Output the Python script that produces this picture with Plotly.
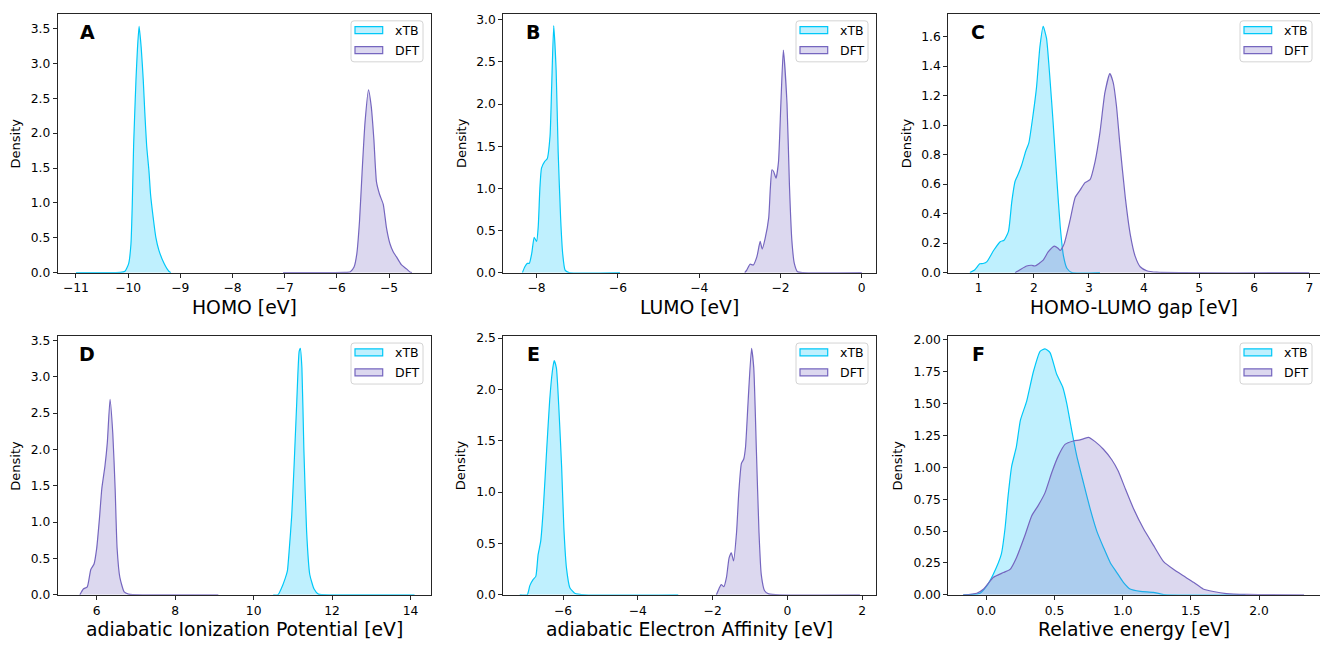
import plotly.graph_objects as go

# ---------------- density curves (x in eV, kernel density) ----------------
# A: HOMO
homo_xtb_x = [-11.0, -10.5, -10.15, -10.06, -9.99, -9.946, -9.92, -9.895, -9.85, -9.82, -9.79,
              -9.75, -9.71, -9.68, -9.645, -9.60, -9.57, -9.52, -9.47, -9.41, -9.31, -9.22, -9.18]
homo_xtb_d = [0, 0, 0.003, 0.02, 0.13, 0.41, 1.0, 1.82, 2.76, 3.23, 3.53,
              3.23, 2.76, 2.29, 1.82, 1.45, 1.12, 0.79, 0.51, 0.32, 0.13, 0.02, 0]
homo_dft_x = [-7.03, -6.2, -5.85, -5.74, -5.67, -5.617, -5.565, -5.515, -5.46, -5.393, -5.34,
              -5.29, -5.24, -5.18, -5.11, -5.05, -4.98, -4.92, -4.86, -4.76, -4.66, -4.60, -4.56]
homo_dft_d = [0, 0, 0.003, 0.014, 0.08, 0.27, 0.74, 1.45, 2.15, 2.62, 2.38,
              1.91, 1.30, 1.12, 0.98, 0.65, 0.41, 0.30, 0.23, 0.11, 0.05, 0.01, 0]

# B: LUMO
lumo_xtb_x = [-8.35, -8.29, -8.23, -8.18, -8.12, -8.06, -8.0, -7.96, -7.92, -7.88, -7.80, -7.74,
              -7.67, -7.63, -7.58, -7.52, -7.47, -7.41, -7.36, -7.30, -7.2, -5.95]
lumo_xtb_d = [0, 0.07, 0.11, 0.11, 0.23, 0.42, 0.37, 0.55, 1.0, 1.24, 1.32, 1.35,
              1.62, 2.21, 2.93, 2.4, 1.43, 0.65, 0.23, 0.03, 0.0, 0]
lumo_dft_x = [-2.88, -2.83, -2.75, -2.67, -2.58, -2.50, -2.45, -2.38, -2.29, -2.25, -2.21, -2.17,
              -2.11, -2.05, -1.99, -1.93, -1.84, -1.78, -1.72, -1.66, -1.58, -1.45, 0.0]
lumo_dft_d = [0, 0.03, 0.10, 0.09, 0.19, 0.37, 0.28, 0.40, 0.65, 1.0, 1.22, 1.2,
              1.12, 1.31, 2.01, 2.64, 2.01, 1.04, 0.38, 0.11, 0.01, 0.0, 0]

# C: HOMO-LUMO gap
gap_xtb_x = [0.84, 0.93, 1.02, 1.08, 1.15, 1.27, 1.39, 1.46, 1.54, 1.60, 1.66, 1.72, 1.78, 1.85,
             1.91, 1.99, 2.05, 2.11, 2.17, 2.23, 2.29, 2.35, 2.42, 2.48, 2.54, 2.60, 2.69, 3.2]
gap_xtb_d = [0, 0.02, 0.06, 0.062, 0.075, 0.15, 0.21, 0.22, 0.28, 0.48, 0.62, 0.67, 0.73, 0.82,
             0.88, 1.08, 1.26, 1.53, 1.67, 1.59, 1.33, 1.02, 0.62, 0.31, 0.11, 0.03, 0.0, 0]
gap_dft_x = [1.66, 1.75, 1.87, 1.96, 2.02, 2.17, 2.26, 2.37, 2.44, 2.48, 2.55, 2.66, 2.75, 2.84,
             2.93, 3.02, 3.11, 3.20, 3.29, 3.38, 3.44, 3.50, 3.56, 3.66, 3.75, 3.84, 3.93, 4.05,
             4.23, 7.0]
gap_dft_d = [0, 0.02, 0.045, 0.05, 0.045, 0.085, 0.14, 0.18, 0.165, 0.15, 0.195, 0.36, 0.51, 0.56,
             0.61, 0.63, 0.75, 0.95, 1.22, 1.35, 1.29, 1.13, 0.88, 0.51, 0.26, 0.11, 0.04, 0.013,
             0.003, 0]

# D: adiabatic ionization potential
ip_xtb_x = [10.5, 10.62, 10.70, 10.80, 10.86, 10.91, 10.97, 11.03, 11.10, 11.16, 11.19, 11.23,
            11.28, 11.35, 11.43, 11.54, 11.65, 12.0, 14.1]
ip_xtb_d = [0, 0, 0.08, 0.22, 0.33, 0.64, 1.09, 1.77, 2.67, 3.35, 3.39, 3.12,
            2.0, 0.87, 0.28, 0.08, 0.01, 0, 0]
ip_dft_x = [5.57, 5.66, 5.76, 5.85, 5.93, 6.0, 6.07, 6.13, 6.21, 6.27, 6.34, 6.41, 6.47, 6.52,
            6.59, 6.70, 6.81, 7.2, 9.1]
ip_dft_d = [0, 0.08, 0.11, 0.35, 0.42, 0.64, 1.05, 1.46, 1.77, 2.09, 2.69, 2.22, 1.46, 0.64,
            0.24, 0.04, 0.01, 0.0, 0]

# E: adiabatic electron affinity
ea_xtb_x = [-7.16, -6.96, -6.89, -6.80, -6.73, -6.67, -6.60, -6.53, -6.44, -6.36, -6.29, -6.24,
            -6.18, -6.11, -6.04, -5.98, -5.91, -5.82, -5.69, -5.4, -2.92]
ea_xtb_d = [0, 0, 0.09, 0.15, 0.18, 0.39, 0.52, 0.84, 1.41, 1.89, 2.17, 2.28,
            2.21, 1.79, 1.25, 0.65, 0.26, 0.07, 0.016, 0.0, 0]
ea_dft_x = [-1.90, -1.83, -1.77, -1.70, -1.63, -1.56, -1.50, -1.44, -1.36, -1.30, -1.23, -1.17,
            -1.12, -1.05, -0.96, -0.90, -0.83, -0.76, -0.70, -0.61, -0.50, -0.2, 1.94]
ea_dft_d = [0, 0.06, 0.10, 0.08, 0.17, 0.36, 0.41, 0.33, 0.61, 1.0, 1.28, 1.32,
            1.44, 1.89, 2.40, 2.21, 1.41, 0.61, 0.20, 0.04, 0.01, 0, 0]

# F: relative energy
rel_xtb_x = [-0.17, -0.046, 0.003, 0.05, 0.11, 0.137, 0.16, 0.186, 0.22, 0.25, 0.296, 0.345,
             0.394, 0.43, 0.467, 0.516, 0.56, 0.59, 0.626, 0.663, 0.712, 0.76, 0.81, 0.86, 0.91,
             0.957, 1.005, 1.054, 1.13, 1.225, 1.30, 1.9]
rel_xtb_d = [0, 0.013, 0.07, 0.16, 0.32, 0.52, 0.78, 1.01, 1.16, 1.37, 1.52, 1.75,
             1.91, 1.93, 1.90, 1.73, 1.63, 1.50, 1.29, 1.09, 0.88, 0.68, 0.50, 0.37, 0.25,
             0.175, 0.098, 0.046, 0.028, 0.02, 0.002, 0]
rel_dft_x = [-0.17, -0.07, -0.02, 0.05, 0.125, 0.174, 0.22, 0.284, 0.333, 0.38, 0.43, 0.48,
             0.528, 0.577, 0.638, 0.687, 0.748, 0.80, 0.86, 0.92, 0.968, 1.02, 1.078, 1.152,
             1.225, 1.30, 1.372, 1.445, 1.52, 1.59, 1.665, 1.76, 1.91, 2.33]
rel_dft_d = [0, 0.013, 0.046, 0.136, 0.175, 0.20, 0.29, 0.47, 0.62, 0.70, 0.80, 0.96,
             1.09, 1.18, 1.207, 1.215, 1.235, 1.20, 1.14, 1.06, 0.97, 0.83, 0.68, 0.52,
             0.39, 0.26, 0.20, 0.149, 0.098, 0.046, 0.026, 0.01, 0.003, 0]

# ---------------- tick labels ----------------
homo_xticks = [-11, -10, -9, -8, -7, -6, -5]
lumo_xticks = [-8, -6, -4, -2, 0]
gap_xticks = [1, 2, 3, 4, 5, 6, 7]
ip_xticks = [6, 8, 10, 12, 14]
ea_xticks = [-6, -4, -2, 0, 2]
rel_xticks = [0.0, 0.5, 1.0, 1.5, 2.0]

homo_yticks = [0.0, 0.5, 1.0, 1.5, 2.0, 2.5, 3.0, 3.5]
lumo_yticks = [0.0, 0.5, 1.0, 1.5, 2.0, 2.5, 3.0]
gap_yticks = [0.0, 0.2, 0.4, 0.6, 0.8, 1.0, 1.2, 1.4, 1.6]
ip_yticks = [0.0, 0.5, 1.0, 1.5, 2.0, 2.5, 3.0, 3.5]
ea_yticks = [0.0, 0.5, 1.0, 1.5, 2.0, 2.5]
rel_yticks = [0.00, 0.25, 0.50, 0.75, 1.00, 1.25, 1.50, 1.75, 2.00]

series_names = ["xTB", "DFT"]

# ---------------- styling ----------------
FONT = "DejaVu Sans"
TXT = "#000000"
SPINE = "#262626"
LINE_COLORS = {"xTB": "#00c8f8", "DFT": "#7566bf"}
FILL_COLORS = {"xTB": "rgba(0, 196, 250, 0.25)", "DFT": "rgba(115, 100, 190, 0.25)"}

W, H = 1320, 647
col_dom = [[57.7 / W, 431 / W], [503.3 / W, 876 / W], [948.3 / W, 1.0]]
row_dom = [[1 - 272.7 / H, 1 - 9 / H], [1 - 601 / H, 1 - 337.3 / H]]

panels = [
    dict(letter="A", title="HOMO [eV]", curves=[(homo_xtb_x, homo_xtb_d), (homo_dft_x, homo_dft_d)],
         xrange=[-11.35, -4.195], yrange=[0, 3.71], xticks=homo_xticks, xfmt="d",
         yticks=homo_yticks, yfmt=".1f", ylab_shift=-42.5),
    dict(letter="B", title="LUMO [eV]", curves=[(lumo_xtb_x, lumo_xtb_d), (lumo_dft_x, lumo_dft_d)],
         xrange=[-8.82, 0.35], yrange=[0, 3.07], xticks=lumo_xticks, xfmt="d",
         yticks=lumo_yticks, yfmt=".1f", ylab_shift=-42.5),
    dict(letter="C", title="HOMO-LUMO gap [eV]", curves=[(gap_xtb_x, gap_xtb_d), (gap_dft_x, gap_dft_d)],
         xrange=[0.448, 7.194], yrange=[0, 1.755], xticks=gap_xticks, xfmt="d",
         yticks=gap_yticks, yfmt=".1f", ylab_shift=-42.3),
    dict(letter="D", title="adiabatic Ionization Potential [eV]", curves=[(ip_xtb_x, ip_xtb_d), (ip_dft_x, ip_dft_d)],
         xrange=[5.006, 14.52], yrange=[0, 3.56], xticks=ip_xticks, xfmt="d",
         yticks=ip_yticks, yfmt=".1f", ylab_shift=-42.5),
    dict(letter="E", title="adiabatic Electron Affinity [eV]", curves=[(ea_xtb_x, ea_xtb_d), (ea_dft_x, ea_dft_d)],
         xrange=[-7.6, 2.37], yrange=[0, 2.52], xticks=ea_xticks, xfmt="d",
         yticks=ea_yticks, yfmt=".1f", ylab_shift=-42.5),
    dict(letter="F", title="Relative energy [eV]", curves=[(rel_xtb_x, rel_xtb_d), (rel_dft_x, rel_dft_d)],
         xrange=[-0.279, 2.447], yrange=[0, 2.03], xticks=rel_xticks, xfmt=".1f",
         yticks=rel_yticks, yfmt=".2f", ylab_shift=-51.3),
]


def rounded_rect(x0, y0, x1, y1, r):
    return (f"M{x0 + r},{y0} L{x1 - r},{y0} Q{x1},{y0} {x1},{y0 + r} "
            f"L{x1},{y1 - r} Q{x1},{y1} {x1 - r},{y1} L{x0 + r},{y1} "
            f"Q{x0},{y1} {x0},{y1 - r} L{x0},{y0 + r} Q{x0},{y0} {x0 + r},{y0} Z")


fig = go.Figure()
layout = dict(width=W, height=H, autosize=False,
              margin=dict(l=0, r=0, t=0, b=0, pad=0),
              paper_bgcolor="white", plot_bgcolor="white",
              showlegend=False, font=dict(family=FONT, color=TXT, size=12))
annotations = []
shapes = []

for i, p in enumerate(panels):
    row, col = divmod(i, 3)
    sfx = "" if i == 0 else str(i + 1)
    xa, ya = "x" + sfx, "y" + sfx

    for name, (xs, ds) in zip(series_names, p["curves"]):
        fig.add_trace(go.Scatter(
            x=xs, y=ds, mode="lines", name=name, xaxis=xa, yaxis=ya,
            line=dict(color=LINE_COLORS[name], width=1.2, shape="spline", smoothing=0.5),
            fill="tozeroy", fillcolor=FILL_COLORS[name], hoverinfo="skip"))

    common = dict(showline=True, linecolor=SPINE, linewidth=1, ticks="outside", ticklen=4,
                  tickwidth=1, tickcolor=SPINE, showgrid=False, zeroline=False,
                  tickfont=dict(family=FONT, size=12.3, color=TXT))
    layout["xaxis" + sfx] = dict(common, domain=col_dom[col], anchor=ya, range=p["xrange"],
                                 tickmode="array", tickvals=p["xticks"], tickformat=p["xfmt"],
                                 mirror=True)
    layout["yaxis" + sfx] = dict(common, domain=row_dom[row], anchor=xa, range=p["yrange"],
                                 tickmode="array", tickvals=p["yticks"], tickformat=p["yfmt"],
                                 mirror=(col != 2))

    xd, yd = xa + " domain", ya + " domain"
    # panel letter
    annotations.append(dict(text=f"<b>{p['letter']}</b>", xref=xd, yref=yd, x=0, y=1,
                            xshift=29.7, yshift=-18, xanchor="center", yanchor="middle",
                            showarrow=False, font=dict(family=FONT, size=19, color=TXT)))
    # axis titles
    annotations.append(dict(text=p["title"], xref=xd, yref=yd, x=0.5, y=0, yshift=-35,
                            xanchor="center", yanchor="middle", showarrow=False,
                            font=dict(family=FONT, size=18.8, color=TXT)))
    annotations.append(dict(text="Density", xref=xd, yref=yd, x=0, y=0.5, xshift=p["ylab_shift"],
                            xanchor="center", yanchor="middle", textangle=-90, showarrow=False,
                            font=dict(family=FONT, size=13, color=TXT)))
    # legend box
    shapes.append(dict(type="path", xref=xd, yref=yd, xsizemode="pixel", ysizemode="pixel",
                       xanchor=1, yanchor=1, path=rounded_rect(-80, -48, -8, -7, 3),
                       fillcolor="rgba(255,255,255,0.8)", line=dict(color="#d4d4d4", width=1)))
    for k, name in enumerate(series_names):
        yc = -16.3 - 20 * k
        shapes.append(dict(type="rect", xref=xd, yref=yd, xsizemode="pixel", ysizemode="pixel",
                           xanchor=1, yanchor=1, x0=-76, x1=-48.3, y0=yc - 3.5, y1=yc + 3.5,
                           fillcolor=FILL_COLORS[name], line=dict(color=LINE_COLORS[name], width=1.2)))
        annotations.append(dict(text=name, xref=xd, yref=yd, x=1, y=1, xshift=-37.7, yshift=yc,
                                xanchor="left", yanchor="middle", showarrow=False,
                                font=dict(family=FONT, size=12.5, color=TXT)))

layout["annotations"] = annotations
layout["shapes"] = shapes
fig.update_layout(**layout)
fig.write_html("out.html")
